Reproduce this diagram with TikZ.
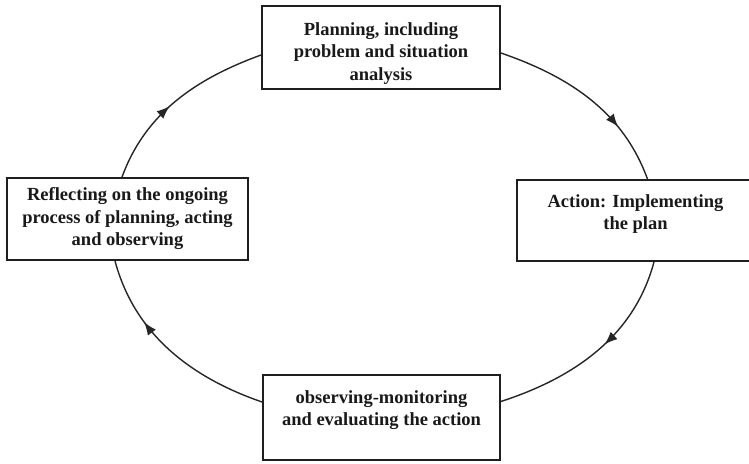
\documentclass[tikz,border=0pt]{standalone}
\usepackage{fontspec}
\setmainfont{Liberation Serif}
\usetikzlibrary{arrows.meta,decorations.markings}
\begin{document}
\begin{tikzpicture}[x=1pt,y=1pt,
  box/.style={draw=black!88, line width=1.8pt, fill=white, inner sep=0pt, align=center,
     font=\fontsize{18.5}{22.5}\selectfont\bfseries, text=black!90},
  cyc/.style={draw=black!85, line width=1.4pt, looseness=0.95},
  arrowat/.style={postaction={decorate, decoration={markings,
     mark=at position #1 with {\arrow{Latex[length=13pt,width=10pt]}}}}}
]
\useasboundingbox (0,0) rectangle (749,463);
\fill[white] (0,0) rectangle (749,463);
\node[box, minimum width=238pt, minimum height=83pt] (T) at (381,415.5)
  {\rule{0pt}{24.5pt}Planning, including\\problem and situation\\analysis};
\node[box, minimum width=241pt, minimum height=82pt] (L) at (127.5,244)
  {Reflecting on the ongoing\\process of planning, acting\\and observing};
\node[box, minimum width=237pt, minimum height=81pt] (R) at (635.5,242.5)
  {Action: Implementing\\the plan\rule[-17pt]{0pt}{17pt}};
\node[box, minimum width=237pt, minimum height=85pt] (B) at (381.5,45.5)
  {observing-monitoring\\and evaluating the action\rule[-19pt]{0pt}{19pt}};
\draw[cyc, arrowat=0.45] ([xshift=-5.5pt]L.north) to[out=70,in=200] ([yshift=-7.5pt]T.west);
\draw[cyc, arrowat=0.7] ([yshift=-5.5pt]T.east) to[out=-19,in=110] ([xshift=12pt]R.north);
\draw[cyc, arrowat=0.45] ([xshift=18.5pt]R.south) to[out=255,in=18] ([yshift=16pt]B.east);
\draw[cyc, arrowat=0.68] ([yshift=15.5pt]B.west) to[out=161,in=-75] ([xshift=-12.5pt]L.south);
\end{tikzpicture}
\end{document}
